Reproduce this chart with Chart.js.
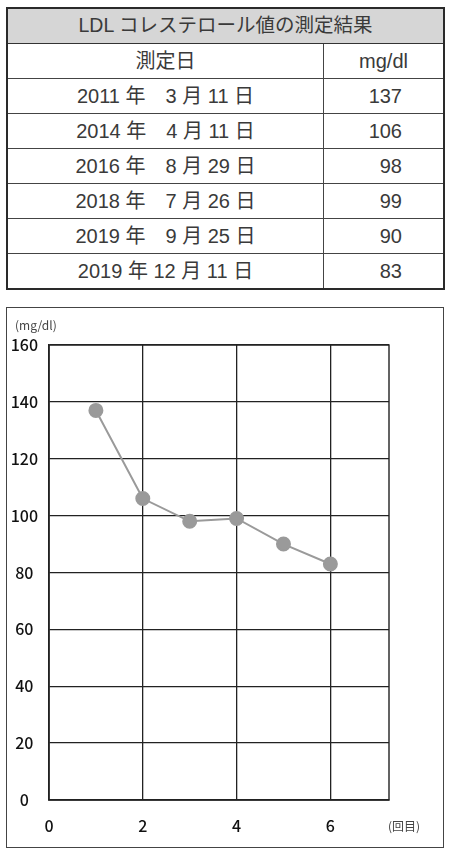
<!DOCTYPE html>
<html>
<head>
<meta charset="utf-8">
<script src="https://cdn.jsdelivr.net/npm/chart.js@4"></script>
<style>
  body { margin: 0; background: #fff; width: 450px; height: 857px; position: relative; overflow: hidden; }
  #tbl {
    position: absolute; left: 6px; top: 7px; width: 439px; height: 280px;
    border-collapse: collapse; border: 2.5px solid #2a2a2a;
    font-family: "Liberation Sans", "Noto Sans CJK JP", sans-serif;
    font-size: 20px; color: #3a3a3a;
  }
  #tbl td { border: 1px solid #444; padding: 0; height: 34px; text-align: center; line-height: 1; }
  #tbl .title td { background: #d6d6d6; font-size: 19.5px; border-bottom: 1.5px solid #333; }
  #tbl td.val { text-align: right; padding-right: 41px; }
  #box {
    position: absolute; left: 6px; top: 307px; width: 436px; height: 539px;
    border: 1.5px solid #444;
  }
  #wrap { position: absolute; left: 0; top: 1px; width: 436px; height: 538px; }
</style>
</head>
<body>
<table id="tbl"></table>
<div id="box"><div id="wrap"><canvas id="c"></canvas></div></div>
<script>
const tableTitle = "LDL コレステロール値の測定結果";
const headers = ["測定日", "mg/dl"];
const dates = ["2011 年　3 月 11 日", "2014 年　4 月 11 日", "2016 年　8 月 29 日",
               "2018 年　7 月 26 日", "2019 年　9 月 25 日", "2019 年 12 月 11 日"];
const rounds = [1, 2, 3, 4, 5, 6];
const ldl = [137, 106, 98, 99, 90, 83];
const xTicks = [0, 2, 4, 6];
const yUnit = "(mg/dl)";
const xUnit = "(回目)";

// table
const tbl = document.getElementById("tbl");
let html = `<tr class="title"><td colspan="2">${tableTitle}</td></tr>`;
html += `<tr><td style="width:315px">${headers[0]}</td><td>${headers[1]}</td></tr>`;
dates.forEach((d, i) => {
  html += `<tr><td>${d}</td><td class="val">${ldl[i]}</td></tr>`;
});
tbl.innerHTML = html;

const labelFont = { family: "'Noto Sans CJK JP', sans-serif", size: 16, weight: "500" };

const framePlugin = {
  id: "frame",
  afterDraw(chart) {
    const { ctx, chartArea } = chart;
    ctx.save();
    ctx.strokeStyle = "#222";
    ctx.lineWidth = 1.4;
    ctx.strokeRect(chartArea.left, chartArea.top, chartArea.right - chartArea.left, chartArea.bottom - chartArea.top);
    ctx.fillStyle = "#444";
    ctx.font = "12px 'Noto Sans CJK JP', sans-serif";
    ctx.textBaseline = "middle";
    ctx.textAlign = "left";
    ctx.fillText(yUnit, chartArea.left - 34, chartArea.top - 20);
    ctx.fillText(xUnit, chartArea.right - 1, chartArea.bottom + 26);
    ctx.restore();
  },
};

new Chart(document.getElementById("c"), {
  type: "line",
  data: {
    datasets: [{
      data: rounds.map((r, i) => ({ x: r, y: ldl[i] })),
      borderColor: "#9a9a9a",
      backgroundColor: "#9a9a9a",
      borderWidth: 2,
      pointRadius: 6.5,
      pointHoverRadius: 6.5,
      tension: 0,
    }],
  },
  options: {
    responsive: true,
    maintainAspectRatio: false,
    animation: false,
    layout: { padding: { top: 36, right: 54, left: 0, bottom: 0 } },
    plugins: { legend: { display: false }, tooltip: { enabled: false } },
    scales: {
      x: {
        type: "linear",
        min: 0,
        max: 7.25,
        afterBuildTicks: (axis) => { axis.ticks = xTicks.map((v) => ({ value: v })); },
        afterFit: (axis) => { axis.height = 47; },
        grid: { color: "#222", lineWidth: 1.3, drawTicks: false },
        border: { color: "#222", width: 1.4 },
        ticks: { color: "#111", font: labelFont, padding: 16, maxRotation: 0 },
      },
      y: {
        min: 0,
        max: 160,
        afterFit: (axis) => { axis.width = 42; },
        grid: { color: "#222", lineWidth: 1.3, drawTicks: false },
        border: { color: "#222", width: 1.4 },
        ticks: { stepSize: 20, color: "#111", font: labelFont, padding: 11, crossAlign: "center" },
      },
    },
  },
  plugins: [framePlugin],
});
</script>
</body>
</html>
